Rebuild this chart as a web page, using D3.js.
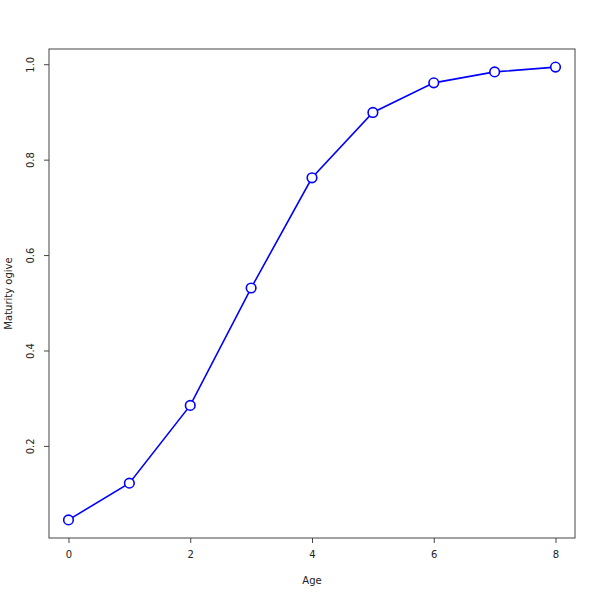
<!DOCTYPE html>
<html><head><meta charset="utf-8">
<script src="https://cdn.jsdelivr.net/npm/d3@7"></script>
<style>body{margin:0;background:#fff}</style>
</head><body>
<svg id="c" width="600" height="600"></svg>
<script>
const ages = [0,1,2,3,4,5,6,7,8];
const maturity = [0.046,0.123,0.286,0.532,0.763,0.900,0.962,0.985,0.995];
const xTicks = [0,2,4,6,8];
const yTicks = [0.2,0.4,0.6,0.8,1.0];

const L=49,R=575,T=49,B=538;
const svg=d3.select("#c");
const ext=(a,b)=>{const d=(b-a)*0.04;return [a-d,b+d];};
const x=d3.scaleLinear().domain(ext(d3.min(ages),d3.max(ages))).range([L,R]);
const y=d3.scaleLinear().domain(ext(d3.min(maturity),d3.max(maturity))).range([B,T]);
const font="'DejaVu Sans', Arial, sans-serif";

svg.append("rect").attr("x",L).attr("y",T).attr("width",R-L).attr("height",B-T)
  .attr("fill","none").attr("stroke","#444").attr("stroke-width",1);

const xa=svg.append("g").attr("transform",`translate(0,${B})`)
  .call(d3.axisBottom(x).tickValues(xTicks).tickFormat(d3.format("d")).tickSize(5).tickSizeOuter(0));
xa.select(".domain").remove();
xa.selectAll("text").attr("font-family",font).attr("font-size",10).attr("fill","#222").attr("dy","1.2em");
xa.selectAll("line").attr("stroke","#444");

const ya=svg.append("g").attr("transform",`translate(${L},0)`)
  .call(d3.axisLeft(y).tickValues(yTicks).tickFormat(d3.format(".1f")).tickSize(5).tickSizeOuter(0));
ya.select(".domain").remove();
ya.selectAll("line").attr("stroke","#444");
ya.selectAll("text").attr("font-family",font).attr("font-size",10).attr("fill","#222")
  .attr("transform",d=>`rotate(-90,${-18},${y(d)})`)
  .attr("x",-18).attr("y",d=>y(d)).attr("dy","0.35em").attr("text-anchor","middle");
ya.selectAll(".tick").attr("transform",null);
ya.selectAll(".tick line").attr("y1",d=>y(d)).attr("y2",d=>y(d));

svg.append("text").attr("x",(L+R)/2).attr("y",584).attr("text-anchor","middle")
  .attr("font-family",font).attr("font-size",10).attr("fill","#222").text("Age");
svg.append("text").attr("transform",`translate(12,${(T+B)/2}) rotate(-90)`).attr("text-anchor","middle")
  .attr("font-family",font).attr("font-size",10).attr("fill","#222").text("Maturity ogive");

const pts=ages.map((a,i)=>[a,maturity[i]]);
svg.append("path").datum(pts).attr("fill","none").attr("stroke","#0000ff").attr("stroke-width",1.6)
  .attr("d",d3.line().x(d=>x(d[0])).y(d=>y(d[1])));
svg.selectAll("circle.p").data(pts).enter().append("circle")
  .attr("cx",d=>x(d[0])).attr("cy",d=>y(d[1])).attr("r",4.8)
  .attr("fill","#fff").attr("stroke","#0000ff").attr("stroke-width",1.6);
</script>
</body></html>
